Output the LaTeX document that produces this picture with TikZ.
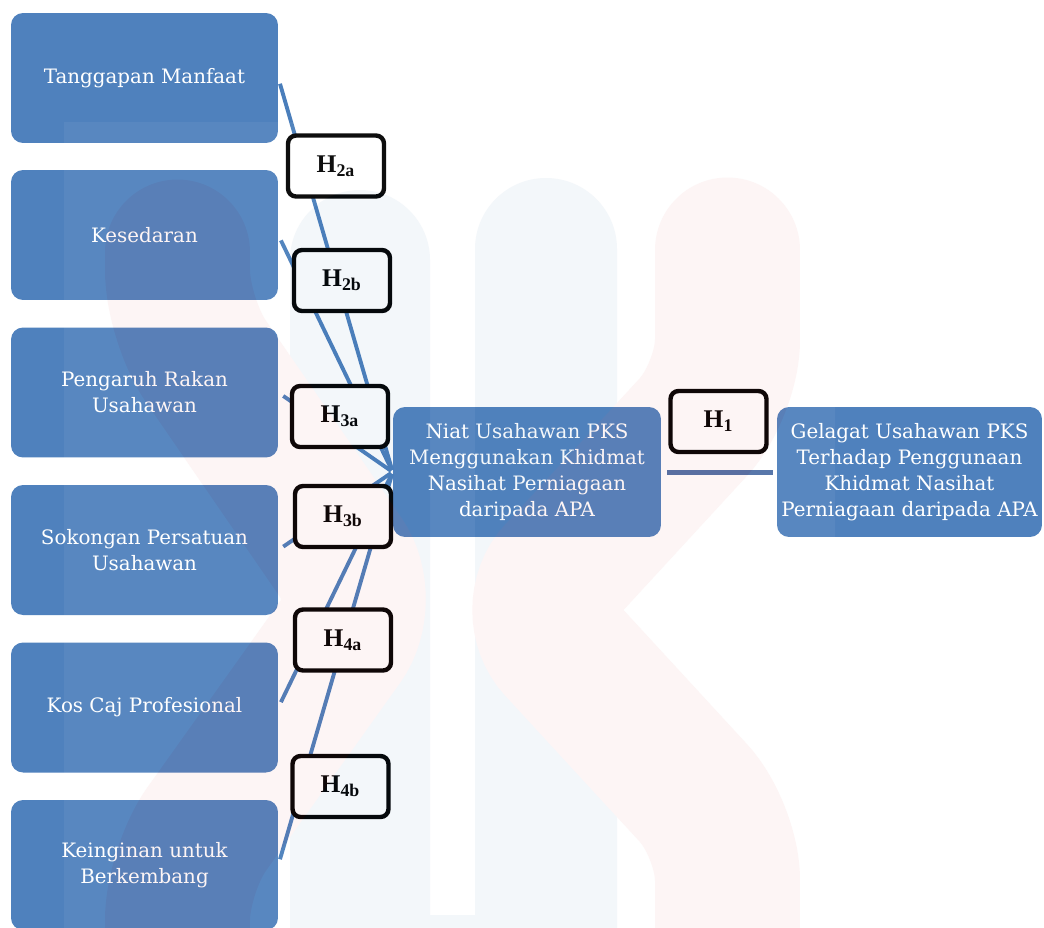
\documentclass[tikz,border=0pt]{standalone}
\usepackage{fontspec}
\setmainfont{DejaVu Serif}
\newfontfamily\hfont{Liberation Serif}
\definecolor{boxblue}{RGB}{79,129,189}
\definecolor{lineblue}{RGB}{74,126,187}
\definecolor{honeblue}{RGB}{79,112,166}
\definecolor{wmblue}{RGB}{85,135,185}
\definecolor{wmpink}{RGB}{235,105,105}
\begin{document}
\begin{tikzpicture}[x=0.02cm,y=-0.02cm,
  factor/.style={draw=none, fill=boxblue, rounded corners=0.24cm, text=white, align=center,
    font=\fontsize{11.3}{14.8}\selectfont, inner sep=0pt, minimum height=2.6cm},
  hbox/.style={draw=black, line width=2.5pt, fill=white, rounded corners=0.16cm,
    minimum width=1.92cm, minimum height=1.22cm, inner sep=0pt,
    font=\hfont\bfseries\fontsize{14.5}{16}\selectfont},
  link/.style={draw=lineblue, line width=2.2pt},
]
\useasboundingbox (0,0) rectangle (1044,927);
\fill[white] (0,0) rectangle (1044,927);

% factor boxes
\node[factor, minimum width=5.34cm] (tm) at (144.5,78) {Tanggapan Manfaat};
\node[factor, minimum width=5.34cm] (ks) at (144.5,235) {Kesedaran};
\node[factor, minimum width=5.34cm] (pr) at (144.5,392.5) {Pengaruh Rakan\\Usahawan};
\node[factor, minimum width=5.34cm] (sp) at (144.5,550) {Sokongan Persatuan\\Usahawan};
\node[factor, minimum width=5.34cm] (kc) at (144.5,707.5) {Kos Caj Profesional};
\node[factor, minimum width=5.34cm] (kb) at (144.5,865) {Keinginan untuk\\Berkembang};
\node[factor, minimum width=5.36cm] (niat) at (527,472) {Niat Usahawan PKS\\Menggunakan Khidmat\\Nasihat Perniagaan\\daripada APA};
\node[factor, minimum width=5.3cm] (gel) at (909.5,472) {Gelagat Usahawan PKS\\Terhadap Penggunaan\\Khidmat Nasihat\\Perniagaan daripada APA};

% connectors
\foreach \s in {tm,ks,pr,sp,kc,kb}
  \draw[link, shorten <=0.12cm, shorten >=0.04cm] (\s.east) -- (niat.west);
\draw[draw=honeblue, line width=0.1cm, shorten <=0.12cm, shorten >=0.08cm] (niat.east) -- (gel.west);

% hypothesis labels
\node[hbox] (h2a) at (336,166) {H\textsubscript{2a}};
\node[hbox] (h2b) at (342,280.5) {H\textsubscript{2b}};
\node[hbox] (h3a) at (340,416.5) {H\textsubscript{3a}};
\node[hbox] (h3b) at (343,516.5) {H\textsubscript{3b}};
\node[hbox] (h4a) at (343,640) {H\textsubscript{4a}};
\node[hbox] (h4b) at (340.5,786.5) {H\textsubscript{4b}};
\node[hbox] (h1) at (718.5,421.5) {H\textsubscript{1}};

% faint watermark
\begin{scope}[transparency group, opacity=0.065]
  \fill[white, fill opacity=0.8] (64,122) rectangle (835,1000);
  \fill[wmblue, rounded corners=1.4cm] (290,190) rectangle (430,1060);
  \fill[wmblue, rounded corners=1.42cm] (475,178) rectangle (617,1060);
  \fill[wmblue] (425,915) rectangle (480,1000);
  \draw[wmpink, line width=2.9cm, line cap=round, rounded corners=1cm]
    (177.5,252) -- (177.5,320) -- (370,600) -- (177.5,870) -- (177.5,1060);
  \draw[wmpink, line width=2.9cm, line cap=round, rounded corners=1cm]
    (727.5,250) -- (727.5,390) -- (525,610) -- (727.5,830) -- (727.5,1060);
\end{scope}
\end{tikzpicture}
\end{document}
